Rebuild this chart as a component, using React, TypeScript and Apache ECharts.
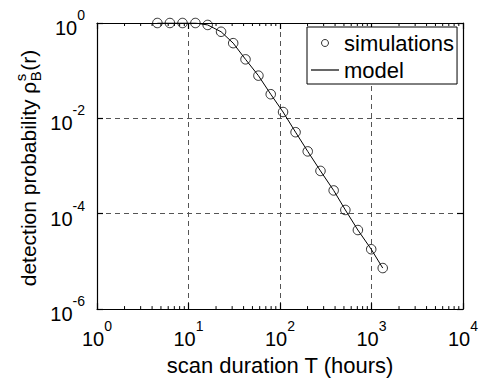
import React, { useEffect, useRef } from "react";
import * as echarts from "echarts";

// ---- data ----
const T_HOURS = [4.57, 6.26, 8.6, 11.9, 16.2, 22.7, 30.8, 42.0, 58.1, 79.2, 108, 148, 201, 277, 386, 518, 710, 993, 1327];
const SIM_P = [1.0, 1.0, 1.0, 1.0, 0.91, 0.655, 0.378, 0.173, 0.0787, 0.0321, 0.0136, 0.00513, 0.00203, 7.9e-4, 3.08e-4, 1.2e-4, 4.55e-5, 1.8e-5, 7.26e-6];
const MODEL_P = [1.0, 1.0, 1.0, 1.0, 0.91, 0.655, 0.378, 0.173, 0.0787, 0.0321, 0.0136, 0.00513, 0.00203, 7.9e-4, 3.08e-4, 1.2e-4, 4.55e-5, 1.8e-5, 7.26e-6];

const X_MIN = 1;
const X_MAX = 10000;
const Y_MIN = 1e-6;
const Y_MAX = 1;
const Y_TICK_STEP = 2; // decades between labelled y ticks

// minor tick multipliers within each decade of the x axis
const X_DECADES = [1, 10, 100, 1000];
const MINOR_MULT = [2, 3, 4, 5, 6, 7, 8, 9];

const X_TITLE = "scan duration T (hours)";
const Y_TITLE_MAIN = "detection probability \u03c1";
const Y_TITLE_SUB = "B";
const Y_TITLE_SUP = "s";
const Y_TITLE_TAIL = "(r)";
const LEGEND_NAMES = ["simulations", "model"];

const FONT = '"Liberation Sans", Arial, Helvetica, sans-serif';

function measure(text: string, size: number): number {
  const c = document.createElement("canvas").getContext("2d");
  if (!c) return text.length * size * 0.5;
  c.font = `${size}px ${FONT}`;
  return c.measureText(text).width;
}

export default function App() {
  const ref = useRef<HTMLDivElement>(null);

  useEffect(() => {
    if (!ref.current) return;
    const chart = echarts.init(ref.current, undefined, { renderer: "svg" });

    const minorTicks: number[][] = [];
    X_DECADES.forEach((d) => MINOR_MULT.forEach((m) => minorTicks.push([m * d, Y_MAX])));

    const labelFmt = (v: number) => {
      const e = Math.round(Math.log10(v));
      return `{b|10}{e|${e}}`;
    };
    const rich = {
      b: { fontSize: 20, fontFamily: FONT, color: "#000", lineHeight: 30, verticalAlign: "bottom" },
      e: { fontSize: 14, fontFamily: FONT, color: "#000", lineHeight: 10, verticalAlign: "top" },
    };

    // y title built from pieces (stacked sub/superscript)
    const mainSize = 21;
    const smallSize = 15;
    const Lmain = measure(Y_TITLE_MAIN, mainSize);
    const Lsub = Math.max(measure(Y_TITLE_SUB, smallSize), measure(Y_TITLE_SUP, smallSize));
    const Ltail = measure(Y_TITLE_TAIL, mainSize);
    const total = Lmain + Lsub + 1 + Ltail;
    const centerY = 168;
    const startY = centerY + total / 2;

    const lineStyle = { color: "#000", width: 1.2 };
    const gridLine = { show: true, lineStyle: { color: "#555", type: [5, 4] as any, width: 1 } };

    chart.setOption({
      animation: false,
      backgroundColor: "#fff",
      grid: { left: 97, right: 16, top: 23, bottom: 65, containLabel: false },
      legend: {
        data: [
          { name: LEGEND_NAMES[0], icon: "circle", itemStyle: { color: "rgba(0,0,0,0)", borderColor: "#000", borderWidth: 1 } },
          { name: LEGEND_NAMES[1], icon: "path://M0,0h28v1.2h-28z", itemStyle: { color: "#000", borderWidth: 0 } },
        ],
        orient: "vertical",
        left: 307,
        top: 27,
        width: 148,
        padding: [4, 3, 2, 4],
        itemWidth: 28,
        itemHeight: 7,
        itemGap: 3,
        itemTextGap: 3,
        backgroundColor: "#fff",
        borderColor: "#000",
        borderWidth: 1,
        borderRadius: 0,
        textStyle: { fontSize: 22, fontFamily: FONT, color: "#000", lineHeight: 24 },
        selectedMode: false,
      },
      xAxis: [
        {
          type: "log",
          logBase: 10,
          min: X_MIN,
          max: X_MAX,
          position: "bottom",
          axisLine: { show: true, lineStyle },
          axisTick: { show: true, inside: true, length: 6, lineStyle },
          axisLabel: { formatter: labelFmt, rich, margin: 10 },
          splitLine: gridLine,
          name: X_TITLE,
          nameLocation: "middle",
          nameGap: 34,
          nameTextStyle: { fontSize: 22, fontFamily: FONT, color: "#000" },
        },
        {
          type: "log",
          logBase: 10,
          min: X_MIN,
          max: X_MAX,
          position: "top",
          axisLine: { show: true, lineStyle },
          axisTick: { show: true, inside: true, length: 6, lineStyle },
          axisLabel: { show: false },
          splitLine: { show: false },
        },
      ],
      yAxis: [
        {
          type: "log",
          logBase: 10,
          min: Y_MIN,
          max: Y_MAX,
          interval: Y_TICK_STEP,
          position: "left",
          axisLine: { show: true, lineStyle },
          axisTick: { show: true, inside: true, length: 6, lineStyle },
          axisLabel: { formatter: labelFmt, rich, margin: 12 },
          splitLine: gridLine,
        },
        {
          type: "log",
          logBase: 10,
          min: Y_MIN,
          max: Y_MAX,
          interval: Y_TICK_STEP,
          position: "right",
          axisLine: { show: true, lineStyle },
          axisTick: { show: true, inside: true, length: 6, lineStyle },
          axisLabel: { show: false },
          splitLine: { show: false },
        },
      ],
      series: [
        {
          name: "minorTicks",
          type: "custom",
          xAxisIndex: 0,
          yAxisIndex: 0,
          silent: true,
          data: minorTicks,
          encode: { x: 0, y: 1 },
          renderItem: (params: any, api: any) => {
            const v = api.value(0);
            const b = api.coord([v, Y_MIN]);
            const t = api.coord([v, Y_MAX]);
            const st = { stroke: "#000", lineWidth: 1 };
            return {
              type: "group",
              children: [
                { type: "line", shape: { x1: b[0], y1: b[1], x2: b[0], y2: b[1] - 3 }, style: st },
                { type: "line", shape: { x1: t[0], y1: t[1], x2: t[0], y2: t[1] + 3 }, style: st },
              ],
            };
          },
          z: 1,
        },
        {
          name: LEGEND_NAMES[1],
          type: "line",
          data: T_HOURS.map((t, i) => [t, MODEL_P[i]]),
          symbol: "none",
          lineStyle: { color: "#000", width: 1 },
          itemStyle: { color: "#000" },
          z: 3,
        },
        {
          name: LEGEND_NAMES[0],
          type: "scatter",
          data: T_HOURS.map((t, i) => [t, SIM_P[i]]),
          symbol: "circle",
          symbolSize: 9.5,
          itemStyle: { color: "rgba(0,0,0,0)", borderColor: "#000", borderWidth: 1 },
          z: 4,
        },
      ],
      graphic: [
        {
          type: "group",
          x: 36,
          y: startY,
          rotation: Math.PI / 2,
          children: [
            {
              type: "text",
              x: 0,
              y: -8,
              style: { text: Y_TITLE_MAIN, font: `${mainSize}px ${FONT}`, fill: "#000", verticalAlign: "middle", align: "left" },
            },
            {
              type: "text",
              x: Lmain + 0.5,
              y: -16,
              style: { text: Y_TITLE_SUP, font: `${smallSize}px ${FONT}`, fill: "#000", verticalAlign: "middle", align: "left" },
            },
            {
              type: "text",
              x: Lmain + 0.5,
              y: -1,
              style: { text: Y_TITLE_SUB, font: `${smallSize}px ${FONT}`, fill: "#000", verticalAlign: "middle", align: "left" },
            },
            {
              type: "text",
              x: Lmain + Lsub + 1,
              y: -8,
              style: { text: Y_TITLE_TAIL, font: `${mainSize}px ${FONT}`, fill: "#000", verticalAlign: "middle", align: "left" },
            },
          ],
        },
      ],
    });

    return () => chart.dispose();
  }, []);

  return (
    <div
      ref={ref}
      style={{ position: "fixed", left: 0, top: 0, width: 481, height: 381, background: "#fff" }}
    />
  );
}
